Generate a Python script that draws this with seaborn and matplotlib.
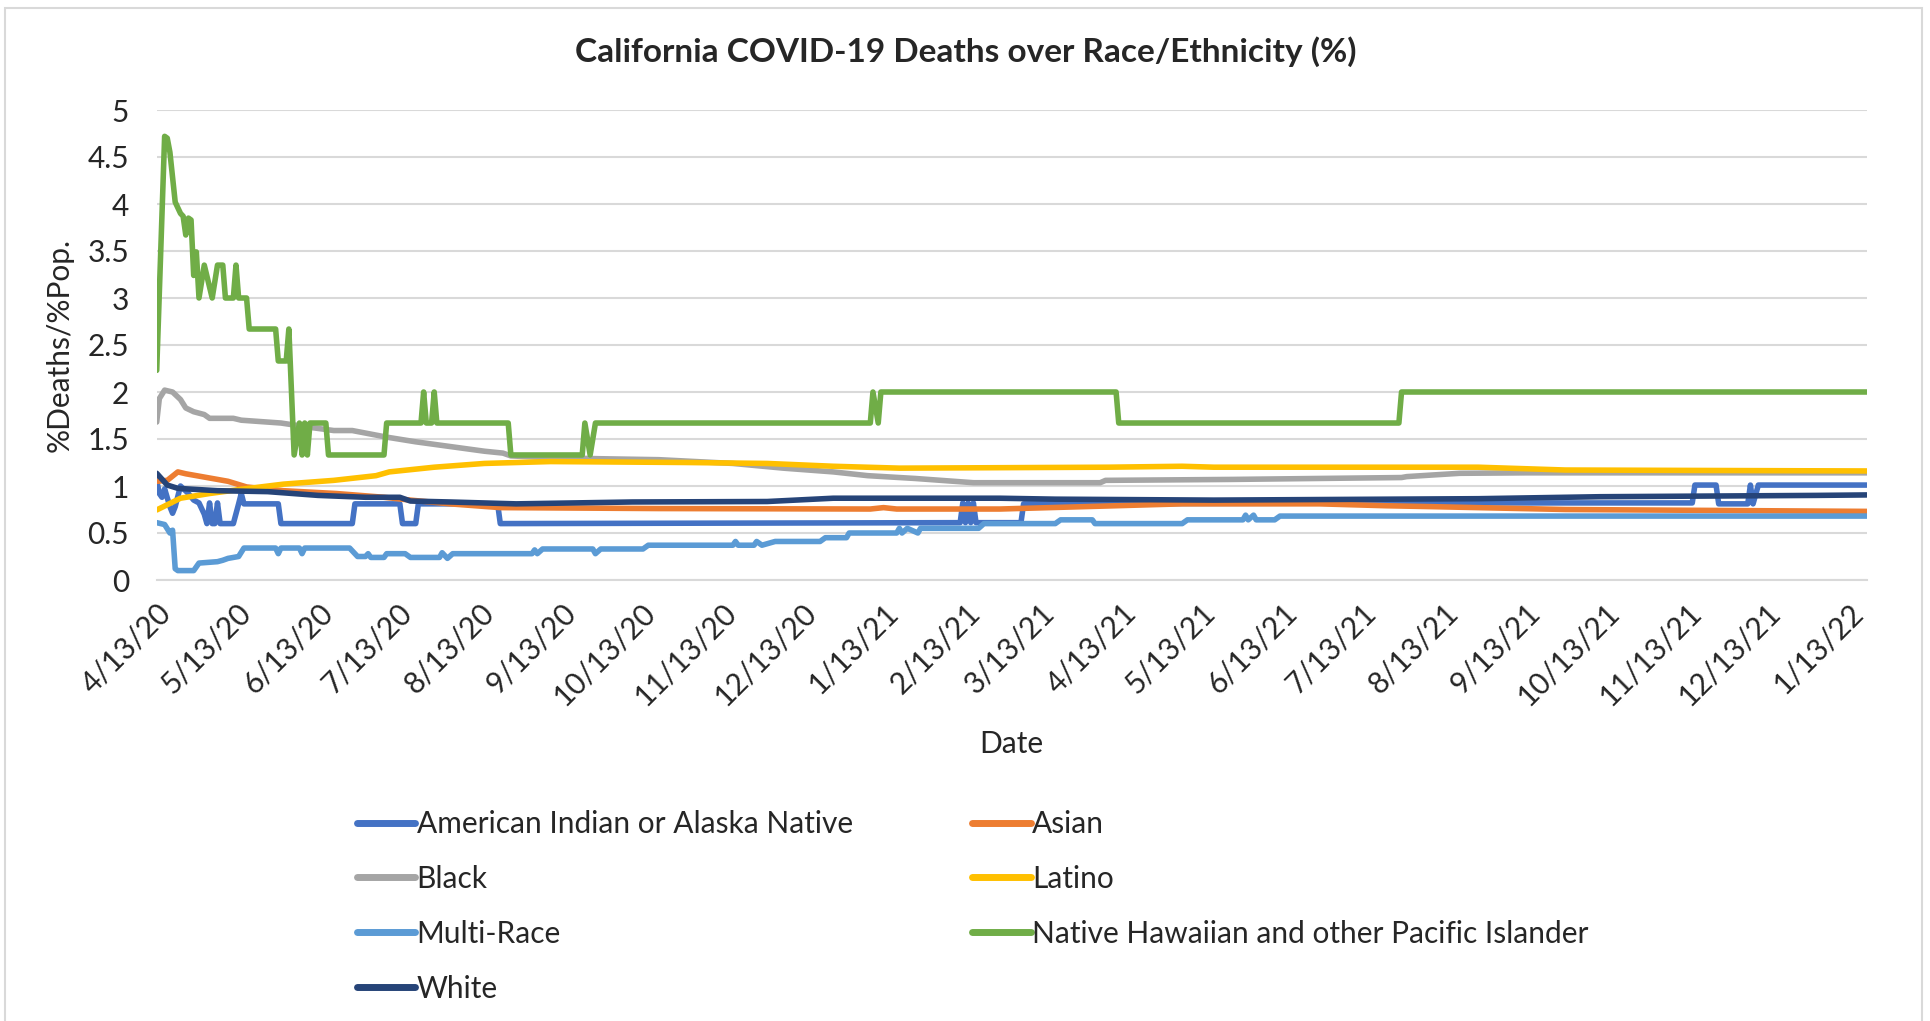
import pandas as pd
import numpy as np
import seaborn as sns
import matplotlib
import matplotlib.pyplot as plt
import matplotlib.dates as mdates
from matplotlib.patches import Rectangle

# values, days counted from 4/13/20
start = pd.Timestamp('2020-04-13')
end_day = 647

aian_days = [0, 1, 2, 3, 5, 6, 7, 9, 12, 14, 16, 18, 19, 20, 21, 22, 23, 24, 29, 31, 32, 33, 46, 47,
             74, 75, 92, 93, 98, 99, 129, 130, 304, 305, 306, 307, 308, 309, 310, 327, 328, 480,
             581, 582, 590, 591, 602, 603, 604, 606, 647]
aian_vals = [1.06, 0.92, 0.88, 0.97, 0.78, 0.71, 0.78, 1.00, 0.92, 0.85, 0.82, 0.70, 0.60, 0.82, 0.60,
             0.60, 0.82, 0.60, 0.60, 0.81, 0.92, 0.81, 0.81, 0.60, 0.60, 0.81, 0.81, 0.60, 0.60, 0.81,
             0.81, 0.60, 0.61, 0.82, 0.61, 0.82, 0.61, 0.82, 0.61, 0.61, 0.81, 0.82, 0.82, 1.01, 1.01,
             0.81, 0.81, 1.01, 0.81, 1.01, 1.01]

asian_days = [0, 4, 8, 11, 19, 27, 34, 48, 68, 86, 96, 111, 130, 190, 270, 275, 280, 319, 363, 388,
              440, 465, 483, 533, 647]
asian_vals = [1.05, 1.06, 1.15, 1.13, 1.09, 1.05, 0.99, 0.95, 0.92, 0.88, 0.85, 0.81, 0.77, 0.76, 0.755,
              0.77, 0.755, 0.755, 0.79, 0.81, 0.81, 0.79, 0.78, 0.75, 0.73]

black_days = [0, 1, 3, 6, 9, 11, 14, 18, 20, 29, 32, 42, 47, 59, 67, 74, 87, 98, 111, 124, 131, 134,
              150, 168, 190, 218, 237, 256, 269, 287, 309, 357, 359, 407, 471, 473, 493, 518, 647]
black_vals = [1.68, 1.93, 2.02, 2.00, 1.92, 1.83, 1.79, 1.76, 1.72, 1.72, 1.70, 1.68, 1.67, 1.62, 1.59,
              1.59, 1.52, 1.47, 1.42, 1.37, 1.35, 1.32, 1.30, 1.29, 1.28, 1.24, 1.19, 1.15, 1.11, 1.08,
              1.035, 1.035, 1.06, 1.07, 1.09, 1.10, 1.135, 1.14, 1.14]

latino_days = [0, 9, 20, 32, 48, 67, 83, 88, 105, 124, 149, 200, 231, 256, 281, 360, 388, 400, 500,
               533, 647]
latino_vals = [0.745, 0.87, 0.92, 0.965, 1.02, 1.06, 1.11, 1.15, 1.20, 1.24, 1.26, 1.25, 1.24, 1.21,
               1.19, 1.20, 1.21, 1.20, 1.20, 1.17, 1.16]

multi_days = [0, 3, 5, 6, 7, 8, 14, 16, 23, 25, 27, 31, 33, 45, 46, 47, 54, 55, 56, 73, 76, 79, 80,
              81, 86, 87, 94, 96, 107, 108, 110, 112, 142, 143, 144, 146, 165, 166, 168, 184, 186,
              218, 219, 220, 226, 227, 229, 234, 251, 253, 261, 262, 280, 281, 282, 284, 288, 289,
              311, 313, 340, 342, 354, 355, 388, 390, 411, 412, 413, 415, 416, 423, 425, 647]
multi_vals = [0.61, 0.59, 0.50, 0.53, 0.12, 0.10, 0.10, 0.18, 0.195, 0.21, 0.23, 0.25, 0.34, 0.34, 0.28,
              0.34, 0.34, 0.28, 0.34, 0.34, 0.25, 0.25, 0.28, 0.24, 0.24, 0.28, 0.28, 0.24, 0.24, 0.29,
              0.23, 0.28, 0.28, 0.32, 0.28, 0.33, 0.33, 0.28, 0.33, 0.33, 0.37, 0.37, 0.41, 0.37, 0.37,
              0.41, 0.37, 0.41, 0.41, 0.45, 0.45, 0.50, 0.50, 0.55, 0.50, 0.55, 0.50, 0.55, 0.55, 0.60,
              0.60, 0.64, 0.64, 0.60, 0.60, 0.64, 0.64, 0.69, 0.64, 0.69, 0.64, 0.64, 0.68, 0.68]

nhpi_days = [0, 3, 4, 5, 7, 9, 10, 11, 12, 13, 14, 15, 16, 18, 21, 23, 25, 26, 29, 30, 31, 34, 35, 45,
             46, 49, 50, 52, 54, 55, 56, 57, 58, 64, 65, 86, 87, 100, 101, 102, 104, 105, 106, 133,
             134, 161, 162, 164, 166, 270, 271, 273, 274, 363, 364, 470, 471, 647]
nhpi_vals = [2.23, 4.72, 4.70, 4.55, 4.02, 3.90, 3.87, 3.67, 3.85, 3.83, 3.24, 3.49, 3.00, 3.35, 3.00,
             3.35, 3.35, 3.00, 3.00, 3.35, 3.00, 3.00, 2.67, 2.67, 2.33, 2.33, 2.67, 1.33, 1.67, 1.33,
             1.67, 1.33, 1.67, 1.67, 1.33, 1.33, 1.67, 1.67, 2.00, 1.67, 1.67, 2.00, 1.67, 1.67, 1.33,
             1.33, 1.67, 1.33, 1.67, 1.67, 2.00, 1.67, 2.00, 2.00, 1.67, 1.67, 2.00, 2.00]

white_days = [0, 4, 8, 23, 42, 61, 79, 92, 96, 111, 136, 180, 231, 256, 319, 340, 400, 500, 546, 628, 647]
white_vals = [1.135, 1.01, 0.975, 0.95, 0.94, 0.90, 0.88, 0.88, 0.84, 0.83, 0.81, 0.83, 0.835, 0.87,
              0.87, 0.86, 0.85, 0.865, 0.886, 0.90, 0.905]

groups = ['American Indian or Alaska Native', 'Asian', 'Black', 'Latino', 'Multi-Race',
          'Native Hawaiian and other Pacific Islander', 'White']
colors = ['#4472C4', '#ED7D31', '#A5A5A5', '#FFC000', '#5B9BD5', '#70AD47', '#264478']

series = [(aian_days, aian_vals), (asian_days, asian_vals), (black_days, black_vals),
          (latino_days, latino_vals), (multi_days, multi_vals), (nhpi_days, nhpi_vals),
          (white_days, white_vals)]

frames = []
for g, (d, v) in zip(groups, series):
    frames.append(pd.DataFrame({'Date': start + pd.to_timedelta(d, unit='D'), 'value': v, 'group': g}))
df = pd.concat(frames, ignore_index=True)

sns.set_style('white')
plt.rcParams['font.family'] = ['Lato', 'DejaVu Sans']
fs = 21.5

fig = plt.figure(figsize=(19.31, 10.21), dpi=100)
ax = fig.add_axes([156.7 / 1931, 1 - 580 / 1021, (1866.7 - 156.7) / 1931, 470 / 1021])

sns.lineplot(data=df, x='Date', y='value', hue='group', hue_order=groups,
             palette=dict(zip(groups, colors)), linewidth=4, estimator=None, sort=False, ax=ax)

ax.set_ylim(0, 5)
ax.set_yticks(np.arange(0, 5.01, 0.5))
ax.set_yticklabels(['0', '0.5', '1', '1.5', '2', '2.5', '3', '3.5', '4', '4.5', '5'])
ax.set_xlim(start, start + pd.Timedelta(days=end_day))
ax.xaxis.set_major_locator(mdates.MonthLocator(bymonthday=13))
ax.xaxis.set_major_formatter(matplotlib.ticker.FuncFormatter(
    lambda x, pos: '{d.month}/{d.day}/{y:02d}'.format(d=mdates.num2date(x), y=mdates.num2date(x).year % 100)))

ax.yaxis.grid(True, color='#d9d9d9', linewidth=1.5)
ax.xaxis.grid(False)
for s in ['left', 'right', 'top']:
    ax.spines[s].set_visible(False)
ax.spines['bottom'].set_color('#d9d9d9')
ax.spines['bottom'].set_linewidth(1.5)
ax.tick_params(axis='x', which='major', direction='out', length=8, width=1.5, color='#d9d9d9',
               labelsize=fs, pad=5)
ax.tick_params(axis='y', length=0, labelsize=fs, pad=20)
plt.setp(ax.get_xticklabels(), rotation=45, ha='right', rotation_mode='anchor')

ax.set_xlabel('Date', fontsize=fs, labelpad=14)
ax.set_ylabel('%Deaths/%Pop.', fontsize=fs, labelpad=10)
fig.suptitle('California COVID-19 Deaths over Race/Ethnicity (%)', x=0.5, y=1 - 52 / 1021,
             va='center', fontsize=24, fontweight='bold')

handles, labels = ax.get_legend_handles_labels()
ax.get_legend().remove()
order = [0, 2, 4, 6, 1, 3, 5]
for h in handles:
    h.set_linewidth(5)
fig.legend([handles[i] for i in order], [labels[i] for i in order], ncol=2, frameon=False,
           loc='upper left', bbox_to_anchor=(357 / 1931, 1 - 810 / 1021), fontsize=fs,
           handlelength=1.95, handletextpad=0.05, columnspacing=4.0, labelspacing=0.9,
           borderpad=0, borderaxespad=0)

fig.add_artist(Rectangle((5 / 1931, -0.1), 1917 / 1931, 1.1 - 8 / 1021, transform=fig.transFigure,
                         fill=False, edgecolor='#d9d9d9', linewidth=1.5))

fig.savefig('out.png', dpi=100)
